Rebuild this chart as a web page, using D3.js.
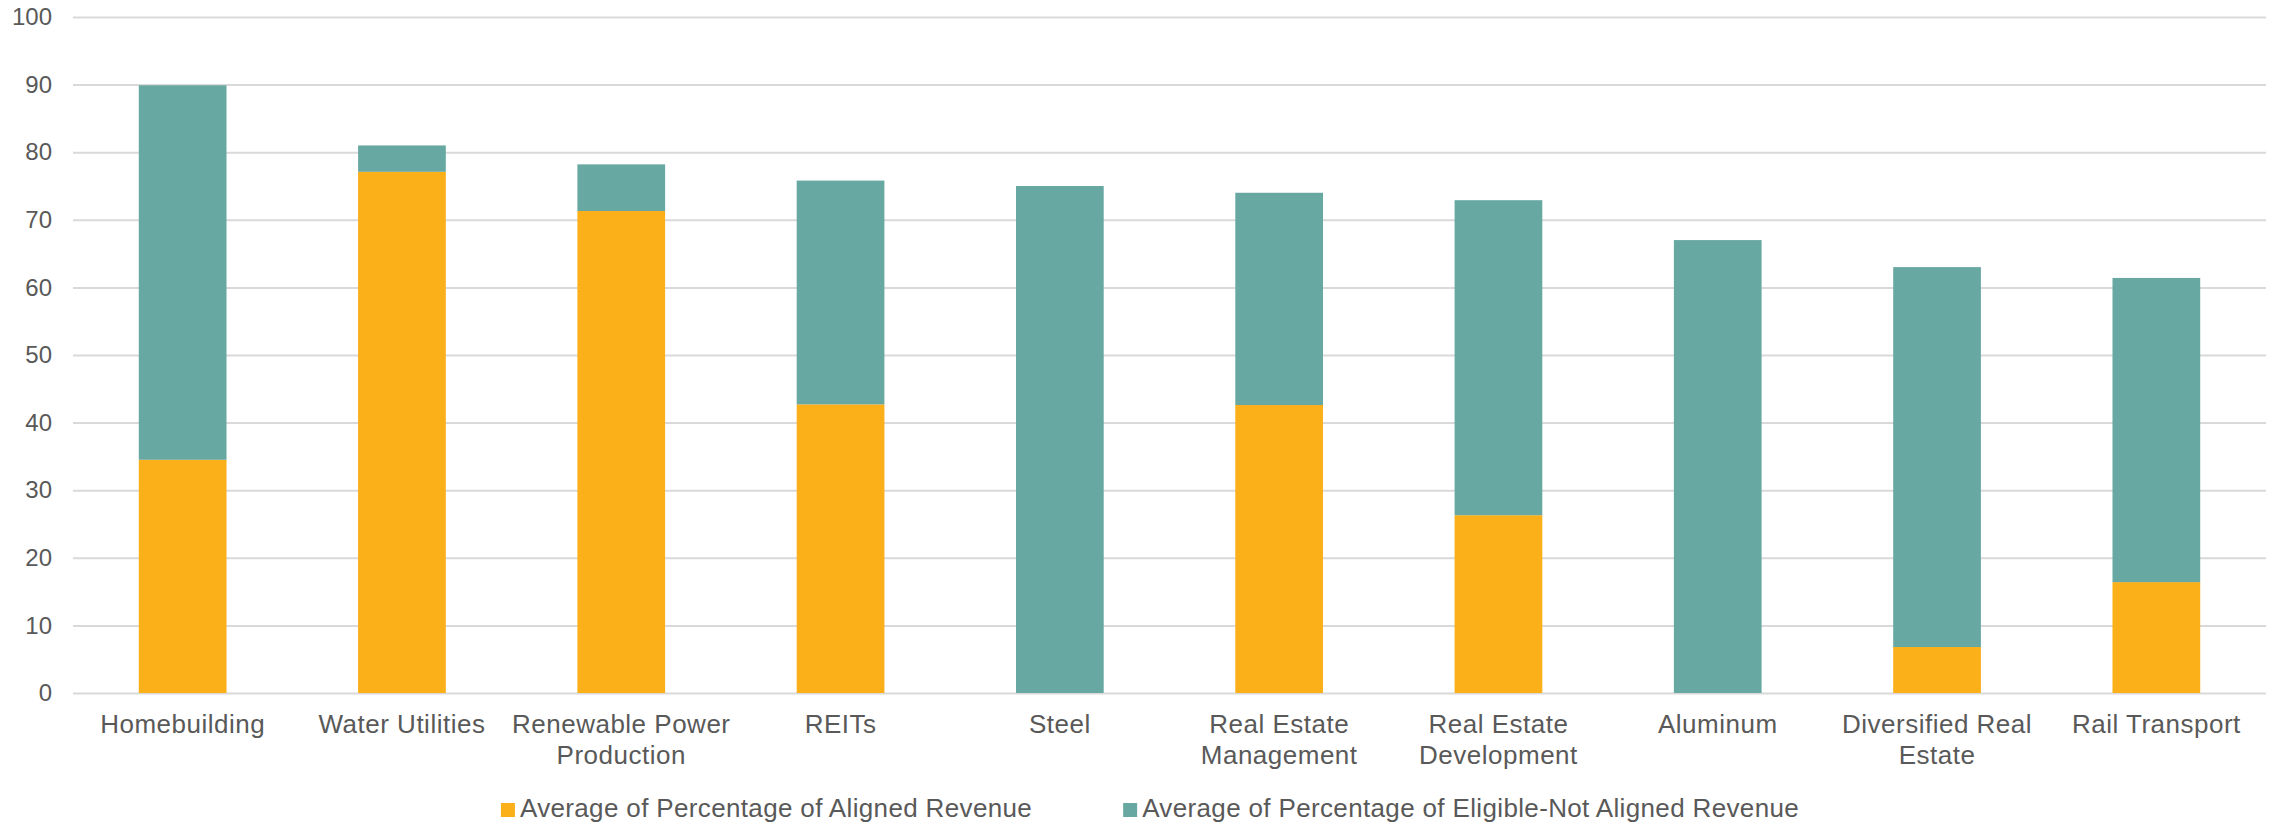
<!DOCTYPE html>
<html>
<head>
<meta charset="utf-8">
<script src="https://cdn.jsdelivr.net/npm/d3@7"></script>
<style>
	body { margin: 0; background: #fff; }
	text { font-family: "Liberation Sans", Arial, sans-serif; fill: #595959; }
</style>
</head>
<body>
<div id="chart"></div>
<script>
let width = 2277;
let height = 826;
let margin = { top: 17, right: 10, bottom: 133, left: 73 };

// categories and the wrapped tick labels
let categories = ["Homebuilding", "Water Utilities", "Renewable Power Production", "REITs", "Steel",
	"Real Estate Management", "Real Estate Development", "Aluminum", "Diversified Real Estate", "Rail Transport"];
let tickLabels = [["Homebuilding"], ["Water Utilities"], ["Renewable Power", "Production"], ["REITs"], ["Steel"],
	["Real Estate", "Management"], ["Real Estate", "Development"], ["Aluminum"], ["Diversified Real", "Estate"], ["Rail Transport"]];

// series values (%)
let aligned = [34.5, 77.1, 71.3, 42.7, 0, 42.6, 26.3, 0, 6.8, 16.4];
let eligibleNotAligned = [55.4, 3.9, 6.9, 33.1, 75.0, 31.4, 46.6, 67.0, 56.2, 45.0];
let yTicks = [0, 10, 20, 30, 40, 50, 60, 70, 80, 90, 100];

let seriesNames = ["Average of Percentage of Aligned Revenue", "Average of Percentage of Eligible-Not Aligned Revenue"];
let colors = ["#FBAF19", "#68A8A2"];

let svg = d3.select("#chart")
	.append("svg")
	.attr("width", width).attr("height", height);

let x = d3.scaleBand().domain(categories)
	.range([margin.left, width - margin.right - 1])
	.paddingInner(0.6).paddingOuter(0.3);
let y = d3.scaleLinear().domain([0, 100]).range([693, margin.top]);

// gridlines + y labels
let yAxis = svg.append("g")
	.attr("transform", `translate(${margin.left},0)`)
	.call(d3.axisLeft(y).tickValues(yTicks).tickSize(-(width - margin.right - 1 - margin.left)).tickPadding(21));
yAxis.select(".domain").remove();
yAxis.selectAll(".tick line").attr("stroke", "#d9d9d9").attr("stroke-width", 2);
yAxis.selectAll(".tick text").attr("font-size", "24px").style("font-family", "Liberation Sans, Arial, sans-serif").attr("fill", "#595959");

// stacked data
let table = categories.map((c, i) => ({ cat: c, aligned: aligned[i], other: eligibleNotAligned[i] }));
let stack = d3.stack().keys(["aligned", "other"])(table);

svg.append("g").selectAll("g").data(stack)
	.join("g").attr("fill", (d, i) => colors[i])
	.selectAll("rect").data(d => d)
	.join("rect")
	.attr("x", d => x(d.data.cat))
	.attr("width", x.bandwidth())
	.attr("y", d => y(d[1]))
	.attr("height", d => y(d[0]) - y(d[1]));

// x labels
let xLab = svg.append("g").selectAll("text").data(categories)
	.join("text")
	.attr("x", d => x(d) + x.bandwidth() / 2)
	.attr("y", 733)
	.attr("text-anchor", "middle")
	.attr("font-size", "26px")
	.attr("letter-spacing", "0.5px");
xLab.selectAll("tspan").data((d, i) => tickLabels[i])
	.join("tspan")
	.attr("x", function() { return this.parentNode.getAttribute("x"); })
	.attr("dy", (d, i) => i == 0 ? 0 : 31)
	.text(d => d);

// legend
let legend = svg.append("g");
let items = legend.selectAll("g").data(seriesNames).join("g");
items.append("rect").attr("width", 14).attr("height", 14).attr("y", 803).attr("fill", (d, i) => colors[i]);
items.append("text").attr("x", 19).attr("y", 817).attr("font-size", "26px").attr("letter-spacing", "0.35px").text(d => d);
let w0 = items.nodes()[0].querySelector("text").getComputedTextLength();
let w1 = items.nodes()[1].querySelector("text").getComputedTextLength();
let gap = 91;
let total = 19 + w0 + gap + 19 + w1;
let startX = 1150 - total / 2;
items.attr("transform", (d, i) => `translate(${i == 0 ? startX : startX + 19 + w0 + gap},0)`);
</script>
</body>
</html>
